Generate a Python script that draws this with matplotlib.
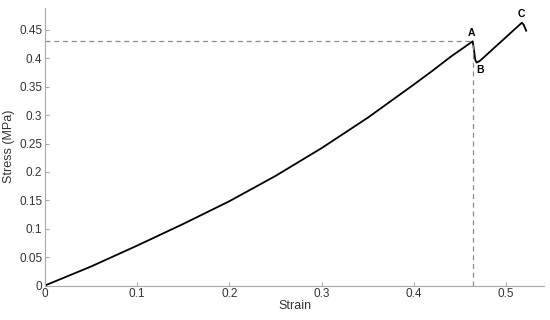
import matplotlib.pyplot as plt

# strain / stress
strain = [0, 0.05, 0.1, 0.15, 0.2, 0.25, 0.3, 0.35, 0.4, 0.42, 0.44, 0.455,
          0.4637, 0.4648, 0.4665, 0.468, 0.4715, 0.517, 0.519, 0.5217]
stress = [0, 0.0335, 0.0703, 0.1085, 0.1485, 0.193, 0.242, 0.2955, 0.354, 0.378, 0.403, 0.420,
          0.430, 0.418, 0.397, 0.3925, 0.3955, 0.4627, 0.459, 0.4486]

pointA = (0.4637, 0.430)
pointB = (0.467, 0.3935)
pointC = (0.517, 0.4627)

xticks = [0, 0.1, 0.2, 0.3, 0.4, 0.5]
xlabels = ['0', '0.1', '0.2', '0.3', '0.4', '0.5']
yticks = [0, 0.05, 0.1, 0.15, 0.2, 0.25, 0.3, 0.35, 0.4, 0.45]
ylabels = ['0', '0.05', '0.1', '0.15', '0.2', '0.25', '0.3', '0.35', '0.4', '0.45']

plt.rcParams['font.family'] = ['Liberation Sans', 'DejaVu Sans']

fig = plt.figure(figsize=(5.5, 3.2), dpi=100)
ax = fig.add_axes([45 / 550, 34.5 / 320, 499 / 550, 277.5 / 320])

ax.plot(strain, stress, color='black', linewidth=1.3)

# dashed guide lines through A
ax.plot([0, pointA[0]], [pointA[1], pointA[1]], color='#8a8a8a', linestyle=(0, (4, 3)), linewidth=0.9)
ax.plot([pointA[0], pointA[0]], [0, pointA[1]], color='#8a8a8a', linestyle=(0, (4, 3)), linewidth=0.9)

ax.text(pointA[0] - 0.001, pointA[1] + 0.005, 'A', fontsize=7.5, fontweight='bold', ha='center', va='bottom')
ax.text(pointB[0] + 0.005, pointB[1] - 0.006, 'B', fontsize=7.5, fontweight='bold', ha='center', va='top')
ax.text(pointC[0] - 0.001, pointC[1] + 0.006, 'C', fontsize=7.5, fontweight='bold', ha='center', va='bottom')

ax.set_xlim(0, 0.541)
ax.set_ylim(0, 0.4886)
ax.set_xticks(xticks)
ax.set_xticklabels(xlabels)
ax.set_yticks(yticks)
ax.set_yticklabels(ylabels)

for side in ['top', 'right']:
    ax.spines[side].set_visible(False)
for side in ['left', 'bottom']:
    ax.spines[side].set_color('#a8a8a8')
    ax.spines[side].set_linewidth(0.8)
ax.tick_params(direction='in', length=3, color='#a8a8a8', labelcolor='#333333', labelsize=8.5, pad=2)

ax.set_xlabel('Strain', fontsize=9, color='#333333', labelpad=0)
ax.set_ylabel('Stress (MPa)', fontsize=9, color='#333333', labelpad=3)

fig.savefig('out.png', dpi=100)
